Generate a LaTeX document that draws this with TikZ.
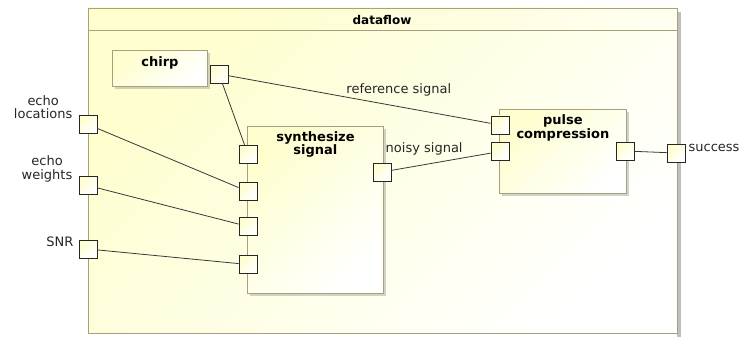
\documentclass[tikz,border=0pt]{standalone}
\usepackage{fontspec}
\setmainfont{DejaVu Sans}
\usetikzlibrary{positioning, shadows, calc}

\definecolor{umlfill}{HTML}{FEFECE}
\definecolor{umlline}{HTML}{A8A07A}
\definecolor{wirecol}{HTML}{383838}

\tikzset{
  comp/.style={draw=umlline, line width=0.9pt,
    top color=white, bottom color=umlfill, shading angle=-135, anchor=north west,
    drop shadow={shadow xshift=3pt, shadow yshift=-3pt, opacity=0.35}},
  port/.style={draw=black!85, line width=0.9pt,
    top color=white, bottom color=umlfill, shading angle=-135,
    minimum size=18pt, inner sep=0pt},
  comptitle/.style={font=\bfseries\fontsize{13}{13.5}\selectfont, align=center,
    anchor=north, inner sep=0pt},
  portlbl/.style={font=\fontsize{13}{13.5}\selectfont, text=black!85, align=center, inner sep=1pt},
  wire/.style={draw=wirecol, line width=0.8pt}
}

\begin{document}
\begin{tikzpicture}[x=1pt, y=-1pt]
	\useasboundingbox (0,0) rectangle (745,337);

	% outer frame with its title bar
	\fill[black, opacity=0.25] (677,12) rectangle (681,337);
	\shade[draw=umlline, line width=0.9pt, top color=white, bottom color=umlfill, shading angle=-135]
		(88,8) rectangle (677,333);
	\draw[umlline, line width=0.9pt] (88,30) -- (677,30);
	\node[font=\bfseries\fontsize{12}{12}\selectfont] (frametitle) at (382,20) {dataflow};

	% components
	\node[comp, minimum width=95pt, minimum height=36pt] (chirp) at (112,50) {};
	\node[comptitle] at ([yshift=-6pt]chirp.north) {chirp};
	\node[comp, minimum width=136pt, minimum height=167pt] (synth) at (247,126) {};
	\node[comptitle] at ([yshift=-5pt]synth.north) {synthesize\\signal};
	\node[comp, minimum width=127pt, minimum height=84pt] (pulse) at (499,109) {};
	\node[comptitle] at ([yshift=-5.5pt]pulse.north) {pulse\\compression};

	% ports
	\node[port] (chirpout) at (219,74) {};
	\node[port] (synthinA) at (248,154.5) {};
	\node[port] (synthinB) at (248,191.5) {};
	\node[port] (synthinC) at (248,226.5) {};
	\node[port] (synthinD) at (248,264.5) {};
	\node[port] (synthout) at (382,172) {};
	\node[port] (pulseinA) at (500,125) {};
	\node[port] (pulseinB) at (500,151.5) {};
	\node[port] (pulseout) at (625,151) {};

	% ports on the frame border
	\node[port] (echoloc) at (88,124.5) {};
	\node[port] (echowt) at (88,185.5) {};
	\node[port] (snr) at (88,249) {};
	\node[port] (success) at (676,153) {};

	\node[portlbl, anchor=south east] at ([xshift=-5pt,yshift=-5pt]echoloc.north west) {echo\\locations};
	\node[portlbl, anchor=south east] at ([xshift=-5pt,yshift=-7pt]echowt.north west) {echo\\weights};
	\node[portlbl, anchor=south east] at ([xshift=-4pt,yshift=-8pt]snr.north west) {SNR};
	\node[portlbl, anchor=south west] at ([xshift=2pt,yshift=-9pt]success.north east) {success};

	% connections
	\draw[wire] (chirpout) -- (synthinA);
	\draw[wire] (chirpout) -- node[portlbl, pos=0.65, above=9pt] {reference signal} (pulseinA);
	\draw[wire] (echoloc) -- (synthinB);
	\draw[wire] (echowt) -- (synthinC);
	\draw[wire] (snr) -- (synthinD);
	\draw[wire] (synthout) -- node[portlbl, pos=0.33, above=8pt] {noisy signal} (pulseinB);
	\draw[wire] (pulseout) -- (success);
\end{tikzpicture}
\end{document}
